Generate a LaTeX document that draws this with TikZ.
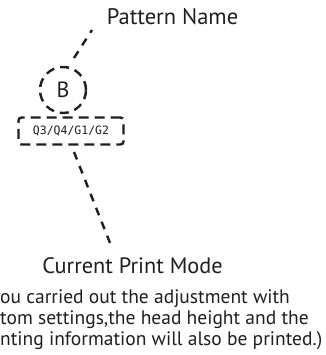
\documentclass[tikz,border=0pt]{standalone}
\usepackage{fontspec}
\setmainfont{PT Sans}
\newfontfamily\codefont{DejaVu Sans Mono}
\begin{document}
\begin{tikzpicture}[x=1pt,y=-1pt,
  ink/.style={draw=black!88,line width=2.4pt},
  dashA/.style={ink,dash pattern=on 8pt off 7pt},
  lbl/.style={inner sep=0pt,anchor=base,text=black!88},
  body/.style={inner sep=0pt,anchor=base west,text=black!88,font=\fontsize{19.5}{21}\selectfont}]
\useasboundingbox (0,0) rectangle (325,355);
% pattern name label
\node[lbl,font=\fontsize{22.5}{26}\selectfont] (pname) at (172.5,25) {Pattern Name};
% circle B
\node[ink,circle,minimum size=46pt,inner sep=0pt,dash pattern=on 9pt off 6pt,
      font=\fontsize{22}{26}\selectfont,text=black!88] (B) at (63,90) {B};
% mode box
\node[ink,rounded corners=3pt,minimum width=105pt,minimum height=27pt,inner sep=0pt,
      dash pattern=on 10pt off 6pt,font=\codefont\fontsize{11.5}{13}\selectfont,text=black!88]
      (mode) at (71,131) {Q3/Q4/G1/G2};
% current print mode label
\node[lbl,font=\fontsize{22.3}{26}\selectfont] (cmode) at (132.5,273) {Current Print Mode};
% body text
\node[body] (t1) at (0,303) {ou carried out the adjustment with};
\node[body] (t2) at (0,324) {tom settings,the head height and the};
\node[body] (t3) at (0,345) {nting information will also be printed.)};
% connectors
\coordinate (c1a) at (74,58);
\coordinate (c1b) at (92,30);
\coordinate (c2a) at (74,152);
\coordinate (c2b) at (110,243);
\draw[dashA] (c1a) -- (c1b);
\draw[dashA] (c2a) -- (c2b);
\end{tikzpicture}
\end{document}
